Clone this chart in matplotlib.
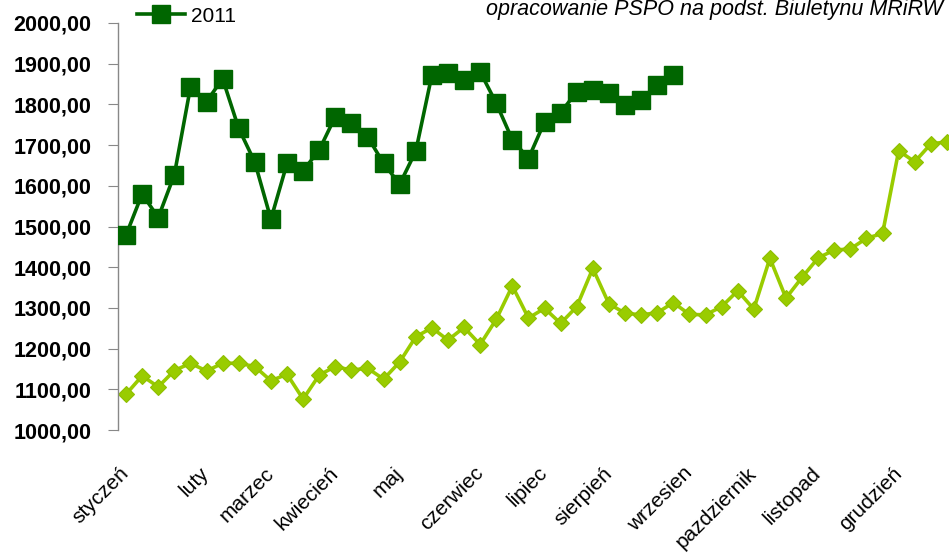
import matplotlib
matplotlib.use("Agg")
import matplotlib.pyplot as plt
from matplotlib.lines import Line2D

# ============================================================================================================
# Data (weekly prices)

months = ["styczeń", "luty", "marzec", "kwiecień", "maj", "czerwiec",
          "lipiec", "sierpień", "wrzesien", "pazdziernik", "listopad", "grudzień"]
month_weeks = [0, 5, 9, 13, 17, 22, 26, 30, 35, 39, 43, 48]

prices_2010 = [1088, 1133, 1106, 1146, 1164, 1145, 1164, 1164, 1156, 1121,
               1137, 1076, 1135, 1156, 1147, 1152, 1125, 1167, 1229, 1251,
               1221, 1252, 1210, 1272, 1354, 1275, 1299, 1262, 1303, 1397,
               1310, 1287, 1283, 1288, 1313, 1284, 1283, 1303, 1342, 1297,
               1422, 1324, 1375, 1423, 1442, 1445, 1471, 1483, 1686, 1659,
               1703, 1708]

prices_2011 = [1479, 1580, 1522, 1627, 1842, 1807, 1863, 1741, 1658, 1518,
               1655, 1637, 1688, 1770, 1755, 1721, 1655, 1604, 1685, 1872,
               1876, 1860, 1880, 1803, 1713, 1667, 1757, 1780, 1831, 1835,
               1827, 1798, 1812, 1848, 1872]

y_ticks = list(range(1000, 2001, 100))
source_note = "opracowanie PSPO na podst. Biuletynu MRiRW"

# ============================================================================================================
# Plot

plt.rcParams["font.family"] = ["Liberation Sans", "DejaVu Sans"]

W, H = 949, 554
fig = plt.figure(figsize=(W / 100, H / 100), dpi=100)
ax = fig.add_axes([118 / W, (H - 430) / H, (955 - 118) / W, (430 - 23) / H])

dark = "#006600"
light = "#99cc00"

ax.plot(range(len(prices_2010)), prices_2010, color=light, lw=2.6,
        marker="D", ms=8.4, mfc=light, mec="#8fbf00", mew=0.8, zorder=2)
ax.plot(range(len(prices_2011)), prices_2011, color=dark, lw=2.6,
        marker="s", ms=13.5, mfc=dark, mec=dark, zorder=3)

ax.set_xlim(-0.5, 51.5)
ax.set_ylim(1000, 2000)
ax.set_yticks(y_ticks)
ax.set_yticklabels([f"{v:.2f}".replace(".", ",") for v in y_ticks],
                   fontsize=15.5, fontweight="bold")
ax.set_xticks(month_weeks)
ax.set_xticklabels(months, rotation=45, ha="right", va="center",
                   rotation_mode="anchor", fontsize=15)

for s in ["top", "right", "bottom"]:
    ax.spines[s].set_visible(False)
ax.spines["left"].set_color("#888888")
ax.spines["left"].set_linewidth(1.0)
ax.tick_params(axis="y", length=7, color="#888888", pad=12)
ax.tick_params(axis="x", length=0, pad=29)

handle = Line2D([], [], color=dark, lw=2.6, marker="s", ms=13, mfc=dark, mec=dark)
fig.legend([handle], ["2011"], loc="center left",
           bbox_to_anchor=(137 / W, 1 - 16 / H), bbox_transform=fig.transFigure,
           frameon=False, fontsize=15, handlelength=2.3, handletextpad=0.3,
           borderpad=0, borderaxespad=0)

fig.text(943 / W, 1 - 15 / H, source_note, ha="right", va="baseline",
         fontsize=15.5, style="italic")

fig.savefig("out.png", dpi=100)
